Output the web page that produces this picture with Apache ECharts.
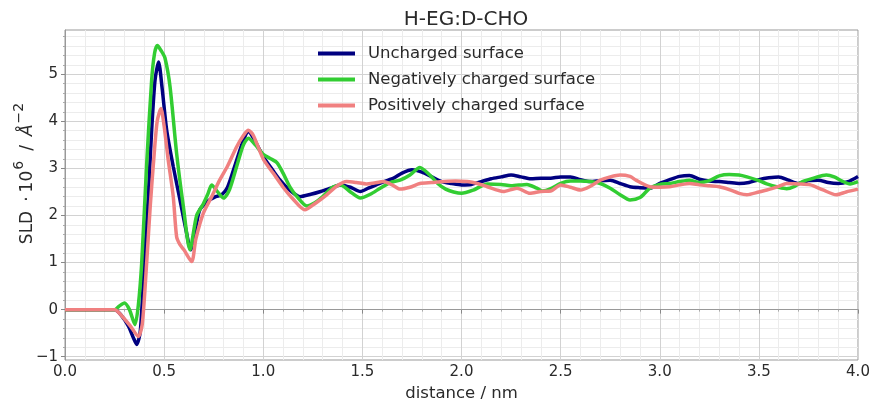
<!DOCTYPE html>
<html>
<head>
<meta charset="utf-8">
<script src="https://cdn.jsdelivr.net/npm/echarts@6/dist/echarts.min.js"></script>
<style>html,body{margin:0;padding:0;background:#fff}#c{width:874px;height:403px}</style>
</head>
<body>
<div id="c"></div>
<script>
const seriesNames = ['Uncharged surface', 'Negatively charged surface', 'Positively charged surface'];

const unchargedX = [0,0.25,0.28,0.32,0.345,0.362,0.38,0.40,0.42,0.437,0.454,0.472,0.49,0.513,0.546,0.58,0.61,0.634,0.66,0.68,0.72,0.76,0.79,0.82,0.86,0.9,0.925,0.95,1.0,1.05,1.085,1.13,1.185,1.24,1.29,1.34,1.39,1.44,1.49,1.53,1.57,1.61,1.66,1.70,1.75,1.80,1.85,1.90,1.95,2.0,2.05,2.1,2.15,2.2,2.25,2.3,2.35,2.4,2.45,2.5,2.55,2.6,2.65,2.7,2.75,2.8,2.85,2.9,2.95,3.0,3.05,3.1,3.15,3.2,3.25,3.3,3.35,3.4,3.45,3.5,3.55,3.6,3.65,3.7,3.75,3.8,3.85,3.9,3.95,4.0];
const unchargedY = [0,0,-0.1,-0.35,-0.6,-0.74,-0.45,1.0,2.4,3.8,4.87,5.26,4.7,3.81,3.04,2.33,1.7,1.27,1.75,2.12,2.3,2.4,2.44,2.6,3.1,3.6,3.78,3.65,3.25,2.95,2.75,2.55,2.40,2.45,2.51,2.58,2.65,2.6,2.51,2.58,2.65,2.72,2.8,2.9,2.97,2.92,2.82,2.72,2.68,2.65,2.66,2.72,2.78,2.82,2.86,2.82,2.78,2.79,2.79,2.82,2.82,2.76,2.72,2.74,2.75,2.68,2.61,2.59,2.58,2.68,2.76,2.83,2.85,2.77,2.73,2.72,2.7,2.68,2.7,2.76,2.8,2.82,2.75,2.68,2.74,2.75,2.7,2.68,2.72,2.83];

const negativeX = [0,0.25,0.275,0.30,0.325,0.353,0.37,0.387,0.412,0.437,0.452,0.466,0.485,0.504,0.53,0.563,0.597,0.63,0.664,0.698,0.72,0.74,0.77,0.80,0.83,0.87,0.90,0.925,0.96,1.0,1.04,1.07,1.1,1.135,1.17,1.22,1.26,1.30,1.35,1.39,1.44,1.49,1.54,1.59,1.64,1.69,1.74,1.79,1.84,1.88,1.92,1.96,2.0,2.06,2.13,2.2,2.25,2.33,2.38,2.41,2.45,2.5,2.55,2.6,2.65,2.7,2.75,2.8,2.85,2.9,2.95,3.0,3.05,3.1,3.15,3.2,3.25,3.3,3.35,3.4,3.44,3.5,3.54,3.6,3.64,3.68,3.72,3.78,3.84,3.88,3.92,3.96,4.0];
const negativeY = [0,0,0.08,0.14,0.0,-0.32,0.1,1.0,3.1,4.87,5.45,5.61,5.5,5.35,4.73,3.32,2.19,1.27,2.0,2.25,2.45,2.65,2.5,2.37,2.55,3.1,3.5,3.64,3.5,3.3,3.2,3.12,2.9,2.6,2.4,2.2,2.27,2.4,2.6,2.65,2.5,2.37,2.45,2.58,2.7,2.75,2.86,3.02,2.86,2.68,2.56,2.5,2.47,2.54,2.67,2.66,2.63,2.66,2.58,2.52,2.57,2.68,2.73,2.73,2.72,2.68,2.58,2.44,2.33,2.38,2.58,2.66,2.68,2.72,2.75,2.7,2.74,2.84,2.87,2.86,2.82,2.74,2.67,2.6,2.57,2.62,2.72,2.8,2.86,2.82,2.73,2.67,2.72];

const positiveX = [0,0.25,0.29,0.33,0.37,0.39,0.412,0.43,0.446,0.465,0.484,0.50,0.52,0.546,0.563,0.58,0.6,0.639,0.66,0.698,0.74,0.78,0.82,0.866,0.9,0.925,0.95,1.0,1.05,1.1,1.15,1.21,1.26,1.32,1.37,1.42,1.47,1.52,1.56,1.606,1.65,1.69,1.74,1.79,1.85,1.91,1.97,2.03,2.08,2.13,2.21,2.28,2.345,2.4,2.45,2.5,2.55,2.6,2.65,2.7,2.75,2.8,2.85,2.88,2.95,3.0,3.05,3.1,3.15,3.2,3.25,3.3,3.35,3.4,3.44,3.5,3.54,3.6,3.64,3.7,3.76,3.82,3.89,3.94,4.0];
const positiveY = [0,0,-0.15,-0.35,-0.57,-0.3,1.0,2.2,3.1,4.0,4.27,3.9,3.2,2.4,1.55,1.38,1.27,1.02,1.5,2.05,2.4,2.75,3.05,3.46,3.7,3.81,3.7,3.2,2.9,2.6,2.35,2.12,2.25,2.44,2.62,2.72,2.7,2.67,2.69,2.72,2.65,2.56,2.6,2.68,2.7,2.72,2.73,2.72,2.68,2.61,2.51,2.58,2.47,2.51,2.52,2.65,2.6,2.54,2.62,2.75,2.82,2.86,2.83,2.75,2.61,2.6,2.61,2.65,2.68,2.65,2.63,2.61,2.55,2.47,2.44,2.5,2.54,2.62,2.68,2.67,2.65,2.55,2.44,2.5,2.56];

const yMajorTicks = [-1,0,1,2,3,4,5];
const yMinorTicks = [-0.8,-0.6,-0.4,-0.2,0.2,0.4,0.6,0.8,1.2,1.4,1.6,1.8,2.2,2.4,2.6,2.8,3.2,3.4,3.6,3.8,4.2,4.4,4.6,4.8,5.2,5.4,5.6,5.8];
const colors = ['#000080', '#32cd32', '#f08080'];

function pairs(xs, ys) { return xs.map((x, i) => [x, ys[i]]); }
const allData = [pairs(unchargedX, unchargedY), pairs(negativeX, negativeY), pairs(positiveX, positiveY)];

const FONT = 'DejaVu Sans';
const TXT = '#2a2a2a';
const chart = echarts.init(document.getElementById('c'), null, {renderer: 'canvas'});
chart.setOption({
  animation: false,
  backgroundColor: '#fff',
  title: {
    text: 'H-EG:D-CHO', left: 461, top: 5, textAlign: 'center',
    textStyle: {fontFamily: FONT, fontSize: 20, fontWeight: 'normal', color: TXT}
  },
  grid: {left: 65, right: 16, top: 30, bottom: 43, show: true, borderColor: '#999', borderWidth: 1, backgroundColor: 'transparent', outerBoundsMode: 'none', containLabel: false},
  legend: {
    orient: 'vertical', left: 313, top: 40, itemGap: 9,
    icon: 'rect', itemWidth: 37, itemHeight: 4,
    textStyle: {fontFamily: FONT, fontSize: 16.5, color: TXT, padding: [0, 0, 0, 8]},
    data: seriesNames
  },
  xAxis: {
    type: 'value', min: 0, max: 4, interval: 0.5,
    name: 'distance / nm', nameLocation: 'middle', nameGap: 24,
    nameTextStyle: {fontFamily: FONT, fontSize: 16.5, color: TXT},
    axisLine: {show: true, lineStyle: {color: '#999'}},
    axisTick: {show: true, length: 4, inside: false, lineStyle: {color: '#888'}},
    minorTick: {show: true, splitNumber: 5, length: 2, lineStyle: {color: '#aaa'}},
    axisLabel: {fontFamily: FONT, fontSize: 15, color: TXT, margin: 5, formatter: v => v.toFixed(1)},
    splitLine: {show: true, lineStyle: {color: '#d2d2d2', width: 1}},
    minorSplitLine: {show: true, lineStyle: {color: '#ececec', width: 1}}
  },
  yAxis: [{
    type: 'value', min: -1.07, max: 5.94, position: 'left',
    name: '{n|SLD}{g|}{n|·}{h|}{n|10}{s|6}{g|}{n|/}{g|}{i|Å}{s|−2}', nameLocation: 'middle', nameGap: 29, nameRotate: 90,
    nameMoveOverlap: false,
    nameTextStyle: {padding: [0, 0, 0, 44], rich: {
      n: {fontFamily: FONT, fontSize: 17, color: TXT, lineHeight: 24, verticalAlign: 'bottom'},
      i: {fontFamily: FONT, fontSize: 17, color: TXT, fontStyle: 'italic', lineHeight: 24, verticalAlign: 'bottom'},
      s: {fontFamily: FONT, fontSize: 14, color: TXT, lineHeight: 24, verticalAlign: 'top', padding: [0, 1, 0, 1]},
      g: {width: 9, lineHeight: 24},
      h: {width: 4, lineHeight: 24}
    }},
    axisLine: {show: true, lineStyle: {color: '#999'}},
    axisTick: {show: true, length: 4, customValues: yMajorTicks, lineStyle: {color: '#888'}},
    axisLabel: {fontFamily: FONT, fontSize: 15, color: TXT, margin: 7, customValues: yMajorTicks, formatter: v => (v < 0 ? '\u2212' + Math.abs(v) : String(v))},
    splitLine: {show: true, lineStyle: {color: '#d2d2d2', width: 1}}
  }, {
    type: 'value', min: -1.07, max: 5.94, position: 'left',
    axisLine: {show: false},
    axisTick: {show: true, length: 2, customValues: yMinorTicks, lineStyle: {color: '#aaa'}},
    axisLabel: {show: false},
    splitLine: {show: true, lineStyle: {color: '#ececec', width: 1}}
  }],
  series: seriesNames.map((name, i) => ({
    name, type: 'line', yAxisIndex: 0, data: allData[i],
    smooth: 0.25, showSymbol: false, symbol: 'none',
    lineStyle: {color: colors[i], width: 3.5}, itemStyle: {color: colors[i]},
    z: 3 + i
  }))
});
</script>
</body>
</html>
